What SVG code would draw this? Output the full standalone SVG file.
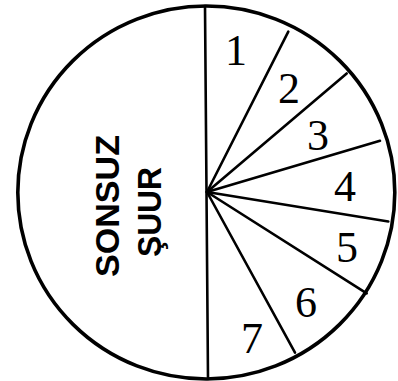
<svg xmlns="http://www.w3.org/2000/svg" width="398" height="381" viewBox="0 0 398 381">
<style>
.ln{stroke:#000;stroke-width:2.6;fill:none;stroke-linecap:round}
.num{font-family:"Liberation Serif","Times New Roman",serif;font-size:44px;fill:#000;text-anchor:middle}
.big{font-family:"Liberation Sans",Arial,sans-serif;font-weight:bold;font-size:33px;fill:#000;text-anchor:middle}
</style>
<rect width="398" height="381" fill="#fff"/>
<g id="circle">
<ellipse cx="206.3" cy="192.5" rx="188.5" ry="186.5" fill="none" stroke="#000" stroke-width="3.6"/>
</g>
<g id="connectors">
<line class="ln" x1="205" y1="6" x2="208" y2="379"/>
<line class="ln" x1="207" y1="192" x2="288.3" y2="31.7"/>
<line class="ln" x1="207" y1="192" x2="346.7" y2="73.5"/>
<line class="ln" x1="207" y1="192" x2="380" y2="140.8"/>
<line class="ln" x1="207" y1="192" x2="388.3" y2="221.5"/>
<line class="ln" x1="207" y1="192" x2="366.7" y2="293.3"/>
<line class="ln" x1="207" y1="192" x2="295" y2="352.7"/>
</g>
<g id="sonsuz-suur">
<text class="big" transform="translate(119,206) rotate(-90)" textLength="142" lengthAdjust="spacingAndGlyphs">SONSUZ</text>
<text class="big" transform="translate(161,212) rotate(-90)" textLength="90" lengthAdjust="spacingAndGlyphs">ŞUUR</text>
</g>
<g id="n1"><text class="num" x="236" y="65">1</text></g>
<g id="n2"><text class="num" x="289" y="103">2</text></g>
<g id="n3"><text class="num" x="318" y="150">3</text></g>
<g id="n4"><text class="num" x="345" y="201">4</text></g>
<g id="n5"><text class="num" x="347" y="262">5</text></g>
<g id="n6"><text class="num" x="306" y="317">6</text></g>
<g id="n7"><text class="num" x="252" y="353">7</text></g>
</svg>
